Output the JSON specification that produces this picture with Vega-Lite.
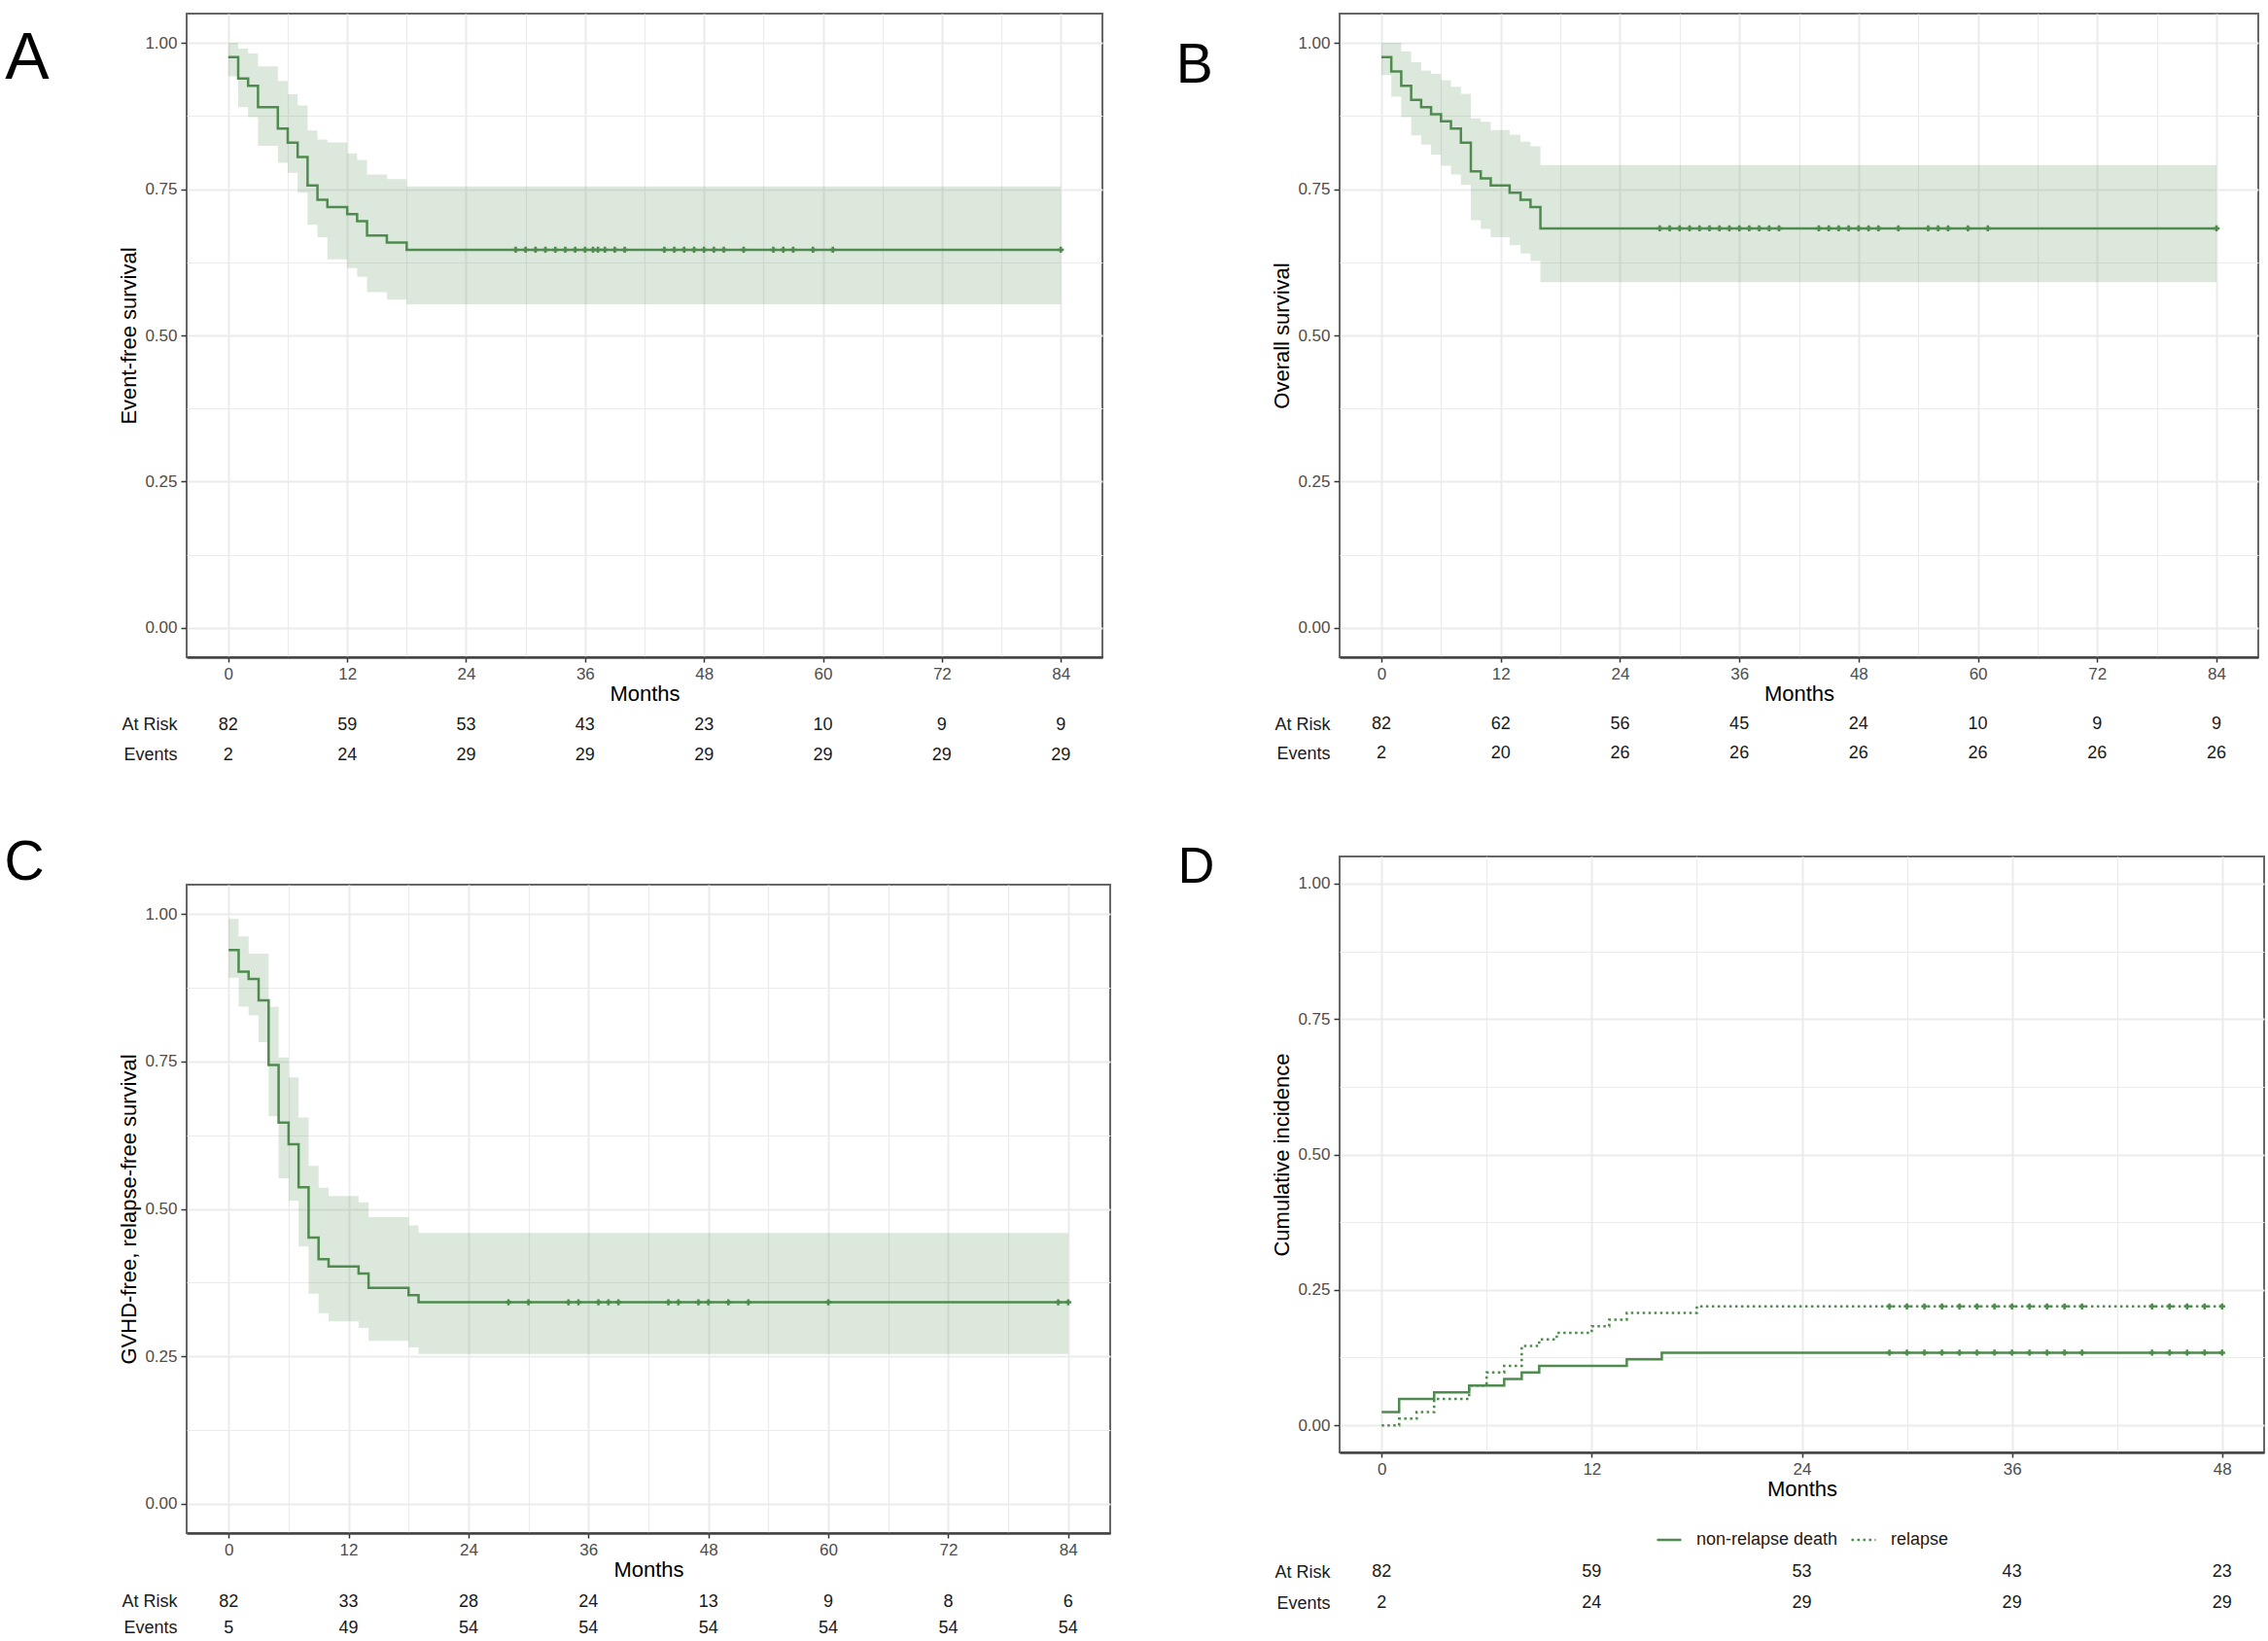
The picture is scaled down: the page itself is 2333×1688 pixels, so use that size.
{
  "$schema": "https://vega.github.io/schema/vega-lite/v6.json",
  "background": "white",
  "padding": {"left": 3, "top": 13, "right": 0, "bottom": 0},
  "datasets": {
    "A_curve": [
      {"t": 0, "s": 0.9756}, {"t": 1, "s": 0.939}, {"t": 2, "s": 0.9268}, {"t": 3, "s": 0.8902},
      {"t": 5, "s": 0.8537}, {"t": 6, "s": 0.8293}, {"t": 7, "s": 0.8049}, {"t": 8, "s": 0.7561},
      {"t": 9, "s": 0.7317}, {"t": 10, "s": 0.7195}, {"t": 12, "s": 0.7073}, {"t": 13, "s": 0.6951},
      {"t": 14, "s": 0.6707}, {"t": 16, "s": 0.6585}, {"t": 18, "s": 0.6463}, {"t": 84, "s": 0.6463}
    ],
    "A_band": [
      {"t": 0, "lo": 0.943, "hi": 1.0}, {"t": 1, "lo": 0.89, "hi": 0.99}, {"t": 2, "lo": 0.873, "hi": 0.982},
      {"t": 3, "lo": 0.824, "hi": 0.96}, {"t": 5, "lo": 0.795, "hi": 0.935}, {"t": 6, "lo": 0.778, "hi": 0.912},
      {"t": 7, "lo": 0.744, "hi": 0.893}, {"t": 8, "lo": 0.689, "hi": 0.85}, {"t": 9, "lo": 0.668, "hi": 0.835},
      {"t": 10, "lo": 0.63, "hi": 0.83}, {"t": 12, "lo": 0.615, "hi": 0.811}, {"t": 13, "lo": 0.6, "hi": 0.8},
      {"t": 14, "lo": 0.574, "hi": 0.775}, {"t": 16, "lo": 0.561, "hi": 0.767}, {"t": 18, "lo": 0.553, "hi": 0.7545},
      {"t": 84, "lo": 0.553, "hi": 0.7545}
    ],
    "A_cens": [
      {"t": 29, "s": 0.6463}, {"t": 30, "s": 0.6463}, {"t": 31, "s": 0.6463}, {"t": 32, "s": 0.6463},
      {"t": 33, "s": 0.6463}, {"t": 34, "s": 0.6463}, {"t": 35, "s": 0.6463}, {"t": 36, "s": 0.6463},
      {"t": 36.8, "s": 0.6463}, {"t": 37.3, "s": 0.6463}, {"t": 38, "s": 0.6463}, {"t": 39, "s": 0.6463},
      {"t": 40, "s": 0.6463}, {"t": 44, "s": 0.6463}, {"t": 45, "s": 0.6463}, {"t": 46, "s": 0.6463},
      {"t": 47, "s": 0.6463}, {"t": 48, "s": 0.6463}, {"t": 49, "s": 0.6463}, {"t": 50, "s": 0.6463},
      {"t": 52, "s": 0.6463}, {"t": 55, "s": 0.6463}, {"t": 56, "s": 0.6463}, {"t": 57, "s": 0.6463},
      {"t": 59, "s": 0.6463}, {"t": 61, "s": 0.6463}, {"t": 84, "s": 0.6463}
    ],
    "A_table": [
      {"t": 0, "row": "At Risk", "n": 82}, {"t": 12, "row": "At Risk", "n": 59}, {"t": 24, "row": "At Risk", "n": 53},
      {"t": 36, "row": "At Risk", "n": 43}, {"t": 48, "row": "At Risk", "n": 23}, {"t": 60, "row": "At Risk", "n": 10},
      {"t": 72, "row": "At Risk", "n": 9}, {"t": 84, "row": "At Risk", "n": 9},
      {"t": 0, "row": "Events", "n": 2}, {"t": 12, "row": "Events", "n": 24}, {"t": 24, "row": "Events", "n": 29},
      {"t": 36, "row": "Events", "n": 29}, {"t": 48, "row": "Events", "n": 29}, {"t": 60, "row": "Events", "n": 29},
      {"t": 72, "row": "Events", "n": 29}, {"t": 84, "row": "Events", "n": 29}
    ],
    "B_curve": [
      {"t": 0, "s": 0.9756}, {"t": 1, "s": 0.9512}, {"t": 2, "s": 0.9268}, {"t": 3, "s": 0.9024},
      {"t": 4, "s": 0.8902}, {"t": 5, "s": 0.878}, {"t": 6, "s": 0.8659}, {"t": 7, "s": 0.8537},
      {"t": 8, "s": 0.8293}, {"t": 9, "s": 0.7805}, {"t": 10, "s": 0.7683}, {"t": 11, "s": 0.7561},
      {"t": 12.9, "s": 0.7439}, {"t": 14, "s": 0.7317}, {"t": 15, "s": 0.7195}, {"t": 16, "s": 0.6829},
      {"t": 84, "s": 0.6829}
    ],
    "B_band": [
      {"t": 0, "lo": 0.945, "hi": 1.0}, {"t": 1, "lo": 0.908, "hi": 1.0}, {"t": 2, "lo": 0.873, "hi": 0.985},
      {"t": 3, "lo": 0.842, "hi": 0.967}, {"t": 4, "lo": 0.826, "hi": 0.953}, {"t": 5, "lo": 0.809, "hi": 0.947},
      {"t": 6, "lo": 0.79, "hi": 0.936}, {"t": 7, "lo": 0.775, "hi": 0.925}, {"t": 8, "lo": 0.757, "hi": 0.913},
      {"t": 9, "lo": 0.697, "hi": 0.871}, {"t": 10, "lo": 0.682, "hi": 0.865}, {"t": 11, "lo": 0.668, "hi": 0.851},
      {"t": 12.9, "lo": 0.654, "hi": 0.843}, {"t": 14, "lo": 0.64, "hi": 0.831}, {"t": 15, "lo": 0.627, "hi": 0.823},
      {"t": 16, "lo": 0.591, "hi": 0.791}, {"t": 84, "lo": 0.591, "hi": 0.791}
    ],
    "B_cens": [
      {"t": 28, "s": 0.6829}, {"t": 29, "s": 0.6829}, {"t": 30, "s": 0.6829}, {"t": 31, "s": 0.6829},
      {"t": 32, "s": 0.6829}, {"t": 33, "s": 0.6829}, {"t": 34, "s": 0.6829}, {"t": 35, "s": 0.6829},
      {"t": 36, "s": 0.6829}, {"t": 37, "s": 0.6829}, {"t": 38, "s": 0.6829}, {"t": 39, "s": 0.6829},
      {"t": 40, "s": 0.6829}, {"t": 44, "s": 0.6829}, {"t": 45, "s": 0.6829}, {"t": 46, "s": 0.6829},
      {"t": 47, "s": 0.6829}, {"t": 48, "s": 0.6829}, {"t": 49, "s": 0.6829}, {"t": 50, "s": 0.6829},
      {"t": 52, "s": 0.6829}, {"t": 55, "s": 0.6829}, {"t": 56, "s": 0.6829}, {"t": 57, "s": 0.6829},
      {"t": 59, "s": 0.6829}, {"t": 61, "s": 0.6829}, {"t": 84, "s": 0.6829}
    ],
    "B_table": [
      {"t": 0, "row": "At Risk", "n": 82}, {"t": 12, "row": "At Risk", "n": 62}, {"t": 24, "row": "At Risk", "n": 56},
      {"t": 36, "row": "At Risk", "n": 45}, {"t": 48, "row": "At Risk", "n": 24}, {"t": 60, "row": "At Risk", "n": 10},
      {"t": 72, "row": "At Risk", "n": 9}, {"t": 84, "row": "At Risk", "n": 9},
      {"t": 0, "row": "Events", "n": 2}, {"t": 12, "row": "Events", "n": 20}, {"t": 24, "row": "Events", "n": 26},
      {"t": 36, "row": "Events", "n": 26}, {"t": 48, "row": "Events", "n": 26}, {"t": 60, "row": "Events", "n": 26},
      {"t": 72, "row": "Events", "n": 26}, {"t": 84, "row": "Events", "n": 26}
    ],
    "C_curve": [
      {"t": 0, "s": 0.939}, {"t": 1, "s": 0.9024}, {"t": 2, "s": 0.8902}, {"t": 3, "s": 0.8537},
      {"t": 4, "s": 0.7439}, {"t": 5, "s": 0.6463}, {"t": 6, "s": 0.6098}, {"t": 7, "s": 0.5366},
      {"t": 8, "s": 0.4512}, {"t": 9, "s": 0.4146}, {"t": 10, "s": 0.4024}, {"t": 13, "s": 0.3902},
      {"t": 14, "s": 0.3659}, {"t": 18, "s": 0.3537}, {"t": 19, "s": 0.3415}, {"t": 84, "s": 0.3415}
    ],
    "C_band": [
      {"t": 0, "lo": 0.892, "hi": 0.992}, {"t": 1, "lo": 0.843, "hi": 0.962}, {"t": 2, "lo": 0.828, "hi": 0.933},
      {"t": 3, "lo": 0.783, "hi": 0.933}, {"t": 4, "lo": 0.657, "hi": 0.843}, {"t": 5, "lo": 0.552, "hi": 0.757},
      {"t": 6, "lo": 0.514, "hi": 0.723}, {"t": 7, "lo": 0.436, "hi": 0.655}, {"t": 8, "lo": 0.356, "hi": 0.573},
      {"t": 9, "lo": 0.323, "hi": 0.536}, {"t": 10, "lo": 0.309, "hi": 0.522}, {"t": 13, "lo": 0.298, "hi": 0.511},
      {"t": 14, "lo": 0.276, "hi": 0.486}, {"t": 18, "lo": 0.265, "hi": 0.472}, {"t": 19, "lo": 0.254, "hi": 0.459},
      {"t": 84, "lo": 0.254, "hi": 0.459}
    ],
    "C_cens": [
      {"t": 28, "s": 0.3415}, {"t": 30, "s": 0.3415}, {"t": 34, "s": 0.3415}, {"t": 35, "s": 0.3415},
      {"t": 37, "s": 0.3415}, {"t": 38, "s": 0.3415}, {"t": 39, "s": 0.3415}, {"t": 44, "s": 0.3415},
      {"t": 45, "s": 0.3415}, {"t": 47, "s": 0.3415}, {"t": 48, "s": 0.3415}, {"t": 50, "s": 0.3415},
      {"t": 52, "s": 0.3415}, {"t": 60, "s": 0.3415}, {"t": 83, "s": 0.3415}, {"t": 84, "s": 0.3415}
    ],
    "C_table": [
      {"t": 0, "row": "At Risk", "n": 82}, {"t": 12, "row": "At Risk", "n": 33}, {"t": 24, "row": "At Risk", "n": 28},
      {"t": 36, "row": "At Risk", "n": 24}, {"t": 48, "row": "At Risk", "n": 13}, {"t": 60, "row": "At Risk", "n": 9},
      {"t": 72, "row": "At Risk", "n": 8}, {"t": 84, "row": "At Risk", "n": 6},
      {"t": 0, "row": "Events", "n": 5}, {"t": 12, "row": "Events", "n": 49}, {"t": 24, "row": "Events", "n": 54},
      {"t": 36, "row": "Events", "n": 54}, {"t": 48, "row": "Events", "n": 54}, {"t": 60, "row": "Events", "n": 54},
      {"t": 72, "row": "Events", "n": 54}, {"t": 84, "row": "Events", "n": 54}
    ],
    "D_curve": [
      {"type": "non-relapse death", "t": 0, "v": 0.0244}, {"type": "non-relapse death", "t": 1, "v": 0.0488},
      {"type": "non-relapse death", "t": 3, "v": 0.061}, {"type": "non-relapse death", "t": 5, "v": 0.0732},
      {"type": "non-relapse death", "t": 7, "v": 0.0854}, {"type": "non-relapse death", "t": 8, "v": 0.0976},
      {"type": "non-relapse death", "t": 9, "v": 0.1098}, {"type": "non-relapse death", "t": 14, "v": 0.122},
      {"type": "non-relapse death", "t": 16, "v": 0.1341}, {"type": "non-relapse death", "t": 48, "v": 0.1341},
      {"type": "relapse", "t": 0, "v": 0}, {"type": "relapse", "t": 1, "v": 0.0122},
      {"type": "relapse", "t": 2, "v": 0.0244}, {"type": "relapse", "t": 3, "v": 0.0488},
      {"type": "relapse", "t": 5, "v": 0.0732}, {"type": "relapse", "t": 6, "v": 0.0976},
      {"type": "relapse", "t": 7, "v": 0.1098}, {"type": "relapse", "t": 8, "v": 0.1463},
      {"type": "relapse", "t": 9, "v": 0.1585}, {"type": "relapse", "t": 10, "v": 0.1707},
      {"type": "relapse", "t": 12, "v": 0.1829}, {"type": "relapse", "t": 13, "v": 0.1951},
      {"type": "relapse", "t": 14, "v": 0.2073}, {"type": "relapse", "t": 18, "v": 0.2195},
      {"type": "relapse", "t": 48, "v": 0.2195}
    ],
    "D_cens": [
      {"t": 29, "v": 0.1341}, {"t": 30, "v": 0.1341}, {"t": 31, "v": 0.1341}, {"t": 32, "v": 0.1341},
      {"t": 33, "v": 0.1341}, {"t": 34, "v": 0.1341}, {"t": 35, "v": 0.1341}, {"t": 36, "v": 0.1341},
      {"t": 37, "v": 0.1341}, {"t": 38, "v": 0.1341}, {"t": 39, "v": 0.1341}, {"t": 40, "v": 0.1341},
      {"t": 44, "v": 0.1341}, {"t": 45, "v": 0.1341}, {"t": 46, "v": 0.1341}, {"t": 47, "v": 0.1341},
      {"t": 48, "v": 0.1341},
      {"t": 29, "v": 0.2195}, {"t": 30, "v": 0.2195}, {"t": 31, "v": 0.2195}, {"t": 32, "v": 0.2195},
      {"t": 33, "v": 0.2195}, {"t": 34, "v": 0.2195}, {"t": 35, "v": 0.2195}, {"t": 36, "v": 0.2195},
      {"t": 37, "v": 0.2195}, {"t": 38, "v": 0.2195}, {"t": 39, "v": 0.2195}, {"t": 40, "v": 0.2195},
      {"t": 44, "v": 0.2195}, {"t": 45, "v": 0.2195}, {"t": 46, "v": 0.2195}, {"t": 47, "v": 0.2195},
      {"t": 48, "v": 0.2195}
    ],
    "D_table": [
      {"t": 0, "row": "At Risk", "n": 82}, {"t": 12, "row": "At Risk", "n": 59}, {"t": 24, "row": "At Risk", "n": 53},
      {"t": 36, "row": "At Risk", "n": 43}, {"t": 48, "row": "At Risk", "n": 23},
      {"t": 0, "row": "Events", "n": 2}, {"t": 12, "row": "Events", "n": 24}, {"t": 24, "row": "Events", "n": 29},
      {"t": 36, "row": "Events", "n": 29}, {"t": 48, "row": "Events", "n": 29}
    ]
  },
  "hconcat": [
    {
      "vconcat": [
        {
          "vconcat": [
            {
              "width": 942,
              "height": 662,
              "title": {"text": "A", "orient": "left", "anchor": "end", "angle": 0, "align": "right", "baseline": "top", "fontSize": 68, "offset": 26, "dy": 13},
              "view": {"fill": "white"},
              "layer": [
                {
                  "data": {"name": "A_band"},
                  "mark": {"type": "area", "interpolate": "step-after", "color": "#4f8a4f", "opacity": 0.2},
                  "encoding": {
                    "x": {"field": "t", "type": "quantitative", "scale": {"domain": [-4.2, 88.2], "nice": false, "zero": false},
                      "axis": {"title": "Months", "values": [0, 6, 12, 18, 24, 30, 36, 42, 48, 54, 60, 66, 72, 78, 84], "labelOverlap": false,
                        "labelExpr": "datum.value % 12 === 0 ? datum.label : ''",
                        "tickOpacity": {"condition": {"test": "datum.value % 12 !== 0", "value": 0}, "value": 1},
                        "gridWidth": {"condition": {"test": "datum.value % 12 !== 0", "value": 1.2}, "value": 2}}},
                    "y": {"field": "lo", "type": "quantitative", "scale": {"domain": [-0.05, 1.05], "nice": false, "zero": false},
                      "axis": {"title": "Event-free survival", "values": [0, 0.125, 0.25, 0.375, 0.5, 0.625, 0.75, 0.875, 1], "format": ".2f", "labelOverlap": false,
                        "labelExpr": "(datum.value * 4) % 1 === 0 ? datum.label : ''",
                        "tickOpacity": {"condition": {"test": "(datum.value * 4) % 1 !== 0", "value": 0}, "value": 1},
                        "gridWidth": {"condition": {"test": "(datum.value * 4) % 1 !== 0", "value": 1.2}, "value": 2}}},
                    "y2": {"field": "hi"}
                  }
                },
                {
                  "data": {"name": "A_curve"},
                  "mark": {"type": "line", "interpolate": "step-after", "color": "#4f8a4f", "strokeWidth": 2.5},
                  "encoding": {"x": {"field": "t", "type": "quantitative"}, "y": {"field": "s", "type": "quantitative"}}
                },
                {
                  "data": {"name": "A_cens"},
                  "mark": {"type": "point", "shape": "cross", "filled": true, "size": 40, "color": "#4f8a4f", "opacity": 1},
                  "encoding": {"x": {"field": "t", "type": "quantitative"}, "y": {"field": "s", "type": "quantitative"}}
                }
              ]
            },
            {
              "width": 942,
              "height": 62,
              "data": {"name": "A_table"},
              "view": {"stroke": null},
              "mark": {"type": "text", "fontSize": 18, "color": "#1a1a1a"},
              "encoding": {
                "x": {"field": "t", "type": "quantitative", "scale": {"domain": [-4.2, 88.2], "nice": false, "zero": false}, "axis": null},
                "y": {"field": "row", "type": "nominal", "scale": {"domain": ["At Risk", "Events"], "paddingInner": 0, "paddingOuter": 0},
                  "axis": {"title": null, "ticks": false, "domain": false, "grid": false, "labelPadding": 10, "labelFontSize": 18, "labelColor": "#1a1a1a"}},
                "text": {"field": "n", "type": "quantitative"}
              }
            }
          ],
          "spacing": 54,
          "bounds": "flush"
        },
        {
          "vconcat": [
            {
              "width": 950,
              "height": 667,
              "title": {"text": "C", "orient": "left", "anchor": "end", "angle": 0, "align": "right", "baseline": "top", "fontSize": 57, "offset": 35, "dy": -50},
              "view": {"fill": "white"},
              "layer": [
                {
                  "data": {"name": "C_band"},
                  "mark": {"type": "area", "interpolate": "step-after", "color": "#4f8a4f", "opacity": 0.2},
                  "encoding": {
                    "x": {"field": "t", "type": "quantitative", "scale": {"domain": [-4.2, 88.2], "nice": false, "zero": false},
                      "axis": {"title": "Months", "values": [0, 6, 12, 18, 24, 30, 36, 42, 48, 54, 60, 66, 72, 78, 84], "labelOverlap": false,
                        "labelExpr": "datum.value % 12 === 0 ? datum.label : ''",
                        "tickOpacity": {"condition": {"test": "datum.value % 12 !== 0", "value": 0}, "value": 1},
                        "gridWidth": {"condition": {"test": "datum.value % 12 !== 0", "value": 1.2}, "value": 2}}},
                    "y": {"field": "lo", "type": "quantitative", "scale": {"domain": [-0.05, 1.05], "nice": false, "zero": false},
                      "axis": {"title": "GVHD-free, relapse-free survival", "values": [0, 0.125, 0.25, 0.375, 0.5, 0.625, 0.75, 0.875, 1], "format": ".2f", "labelOverlap": false,
                        "labelExpr": "(datum.value * 4) % 1 === 0 ? datum.label : ''",
                        "tickOpacity": {"condition": {"test": "(datum.value * 4) % 1 !== 0", "value": 0}, "value": 1},
                        "gridWidth": {"condition": {"test": "(datum.value * 4) % 1 !== 0", "value": 1.2}, "value": 2}}},
                    "y2": {"field": "hi"}
                  }
                },
                {
                  "data": {"name": "C_curve"},
                  "mark": {"type": "line", "interpolate": "step-after", "color": "#4f8a4f", "strokeWidth": 2.5},
                  "encoding": {"x": {"field": "t", "type": "quantitative"}, "y": {"field": "s", "type": "quantitative"}}
                },
                {
                  "data": {"name": "C_cens"},
                  "mark": {"type": "point", "shape": "cross", "filled": true, "size": 40, "color": "#4f8a4f", "opacity": 1},
                  "encoding": {"x": {"field": "t", "type": "quantitative"}, "y": {"field": "s", "type": "quantitative"}}
                }
              ]
            },
            {
              "width": 950,
              "height": 54,
              "data": {"name": "C_table"},
              "view": {"stroke": null},
              "mark": {"type": "text", "fontSize": 18, "color": "#1a1a1a"},
              "encoding": {
                "x": {"field": "t", "type": "quantitative", "scale": {"domain": [-4.2, 88.2], "nice": false, "zero": false}, "axis": null},
                "y": {"field": "row", "type": "nominal", "scale": {"domain": ["At Risk", "Events"], "paddingInner": 0, "paddingOuter": 0},
                  "axis": {"title": null, "ticks": false, "domain": false, "grid": false, "labelPadding": 10, "labelFontSize": 18, "labelColor": "#1a1a1a"}},
                "text": {"field": "n", "type": "quantitative"}
              }
            }
          ],
          "spacing": 57,
          "bounds": "flush"
        }
      ],
      "spacing": 66
    },
    {
      "vconcat": [
        {
          "vconcat": [
            {
              "width": 945,
              "height": 662,
              "title": {"text": "B", "orient": "left", "anchor": "end", "angle": 0, "align": "right", "baseline": "top", "fontSize": 57, "offset": 22, "dy": 26},
              "view": {"fill": "white"},
              "layer": [
                {
                  "data": {"name": "B_band"},
                  "mark": {"type": "area", "interpolate": "step-after", "color": "#4f8a4f", "opacity": 0.2},
                  "encoding": {
                    "x": {"field": "t", "type": "quantitative", "scale": {"domain": [-4.2, 88.2], "nice": false, "zero": false},
                      "axis": {"title": "Months", "values": [0, 6, 12, 18, 24, 30, 36, 42, 48, 54, 60, 66, 72, 78, 84], "labelOverlap": false,
                        "labelExpr": "datum.value % 12 === 0 ? datum.label : ''",
                        "tickOpacity": {"condition": {"test": "datum.value % 12 !== 0", "value": 0}, "value": 1},
                        "gridWidth": {"condition": {"test": "datum.value % 12 !== 0", "value": 1.2}, "value": 2}}},
                    "y": {"field": "lo", "type": "quantitative", "scale": {"domain": [-0.05, 1.05], "nice": false, "zero": false},
                      "axis": {"title": "Overall survival", "values": [0, 0.125, 0.25, 0.375, 0.5, 0.625, 0.75, 0.875, 1], "format": ".2f", "labelOverlap": false,
                        "labelExpr": "(datum.value * 4) % 1 === 0 ? datum.label : ''",
                        "tickOpacity": {"condition": {"test": "(datum.value * 4) % 1 !== 0", "value": 0}, "value": 1},
                        "gridWidth": {"condition": {"test": "(datum.value * 4) % 1 !== 0", "value": 1.2}, "value": 2}}},
                    "y2": {"field": "hi"}
                  }
                },
                {
                  "data": {"name": "B_curve"},
                  "mark": {"type": "line", "interpolate": "step-after", "color": "#4f8a4f", "strokeWidth": 2.5},
                  "encoding": {"x": {"field": "t", "type": "quantitative"}, "y": {"field": "s", "type": "quantitative"}}
                },
                {
                  "data": {"name": "B_cens"},
                  "mark": {"type": "point", "shape": "cross", "filled": true, "size": 40, "color": "#4f8a4f", "opacity": 1},
                  "encoding": {"x": {"field": "t", "type": "quantitative"}, "y": {"field": "s", "type": "quantitative"}}
                }
              ]
            },
            {
              "width": 945,
              "height": 60,
              "data": {"name": "B_table"},
              "view": {"stroke": null},
              "mark": {"type": "text", "fontSize": 18, "color": "#1a1a1a"},
              "encoding": {
                "x": {"field": "t", "type": "quantitative", "scale": {"domain": [-4.2, 88.2], "nice": false, "zero": false}, "axis": null},
                "y": {"field": "row", "type": "nominal", "scale": {"domain": ["At Risk", "Events"], "paddingInner": 0, "paddingOuter": 0},
                  "axis": {"title": null, "ticks": false, "domain": false, "grid": false, "labelPadding": 10, "labelFontSize": 18, "labelColor": "#1a1a1a"}},
                "text": {"field": "n", "type": "quantitative"}
              }
            }
          ],
          "spacing": 54,
          "bounds": "flush"
        },
        {
          "vconcat": [
            {
              "width": 951,
              "height": 613,
              "title": {"text": "D", "orient": "left", "anchor": "end", "angle": 0, "align": "right", "baseline": "top", "fontSize": 52, "offset": 21, "dy": -14},
              "view": {"fill": "white"},
              "layer": [
                {
                  "data": {"name": "D_curve"},
                  "mark": {"type": "line", "interpolate": "step-after", "color": "#4f8a4f", "strokeWidth": 2.5},
                  "encoding": {
                    "x": {"field": "t", "type": "quantitative", "scale": {"domain": [-2.4, 50.4], "nice": false, "zero": false},
                      "axis": {"title": "Months", "values": [0, 6, 12, 18, 24, 30, 36, 42, 48], "labelOverlap": false,
                        "labelExpr": "datum.value % 12 === 0 ? datum.label : ''",
                        "tickOpacity": {"condition": {"test": "datum.value % 12 !== 0", "value": 0}, "value": 1},
                        "gridWidth": {"condition": {"test": "datum.value % 12 !== 0", "value": 1.2}, "value": 2}}},
                    "y": {"field": "v", "type": "quantitative", "scale": {"domain": [-0.05, 1.05], "nice": false, "zero": false},
                      "axis": {"title": "Cumulative incidence", "values": [0, 0.125, 0.25, 0.375, 0.5, 0.625, 0.75, 0.875, 1], "format": ".2f", "labelOverlap": false,
                        "labelExpr": "(datum.value * 4) % 1 === 0 ? datum.label : ''",
                        "tickOpacity": {"condition": {"test": "(datum.value * 4) % 1 !== 0", "value": 0}, "value": 1},
                        "gridWidth": {"condition": {"test": "(datum.value * 4) % 1 !== 0", "value": 1.2}, "value": 2}}},
                    "strokeDash": {"field": "type", "type": "nominal",
                      "scale": {"domain": ["non-relapse death", "relapse"], "range": [[1, 0], [2.5, 3.5]]},
                      "legend": {"title": null, "orient": "bottom", "direction": "horizontal", "symbolType": "stroke", "symbolSize": 625,
                        "symbolStrokeColor": "#4f8a4f", "symbolStrokeWidth": 2.5, "labelFontSize": 18, "labelColor": "#1a1a1a",
                        "labelOffset": 14, "columnPadding": 8, "offset": 28}}
                  }
                },
                {
                  "data": {"name": "D_cens"},
                  "mark": {"type": "point", "shape": "cross", "filled": true, "size": 40, "color": "#4f8a4f", "opacity": 1},
                  "encoding": {"x": {"field": "t", "type": "quantitative"}, "y": {"field": "v", "type": "quantitative"}}
                }
              ]
            },
            {
              "width": 951,
              "height": 64,
              "data": {"name": "D_table"},
              "view": {"stroke": null},
              "mark": {"type": "text", "fontSize": 18, "color": "#1a1a1a"},
              "encoding": {
                "x": {"field": "t", "type": "quantitative", "scale": {"domain": [-2.4, 50.4], "nice": false, "zero": false}, "axis": null},
                "y": {"field": "row", "type": "nominal", "scale": {"domain": ["At Risk", "Events"], "paddingInner": 0, "paddingOuter": 0},
                  "axis": {"title": null, "ticks": false, "domain": false, "grid": false, "labelPadding": 10, "labelFontSize": 18, "labelColor": "#1a1a1a"}},
                "text": {"field": "n", "type": "quantitative"}
              }
            }
          ],
          "spacing": 107,
          "bounds": "flush",
          "resolve": {"scale": {"strokeDash": "independent"}, "legend": {"strokeDash": "independent"}}
        }
      ],
      "spacing": 75,
      "resolve": {"scale": {"strokeDash": "independent"}, "legend": {"strokeDash": "independent"}}
    }
  ],
  "spacing": 65,
  "resolve": {"scale": {"strokeDash": "independent"}, "legend": {"strokeDash": "independent"}},
  "config": {
    "font": "Liberation Sans",
    "view": {"stroke": "#666666", "strokeWidth": 2},
    "title": {"font": "Liberation Sans", "fontWeight": "normal", "color": "#000000"},
    "text": {"font": "Liberation Sans"},
    "axis": {
      "labelFont": "Liberation Sans", "labelFontSize": 17, "labelColor": "#4d4d4d",
      "titleFont": "Liberation Sans", "titleFontSize": 22, "titleFontWeight": "normal", "titleColor": "#000000",
      "tickColor": "#333333", "tickWidth": 1.5, "gridColor": "#ebebeb", "domain": false
    },
    "axisX": {"tickSize": 5, "labelPadding": 4, "titlePadding": 2, "domain": true, "domainColor": "#444444", "domainWidth": 2.5},
    "axisY": {"tickSize": 6, "labelPadding": 4, "titlePadding": 4},
    "legend": {"labelFont": "Liberation Sans", "layout": {"bottom": {"anchor": "middle"}}}
  }
}
